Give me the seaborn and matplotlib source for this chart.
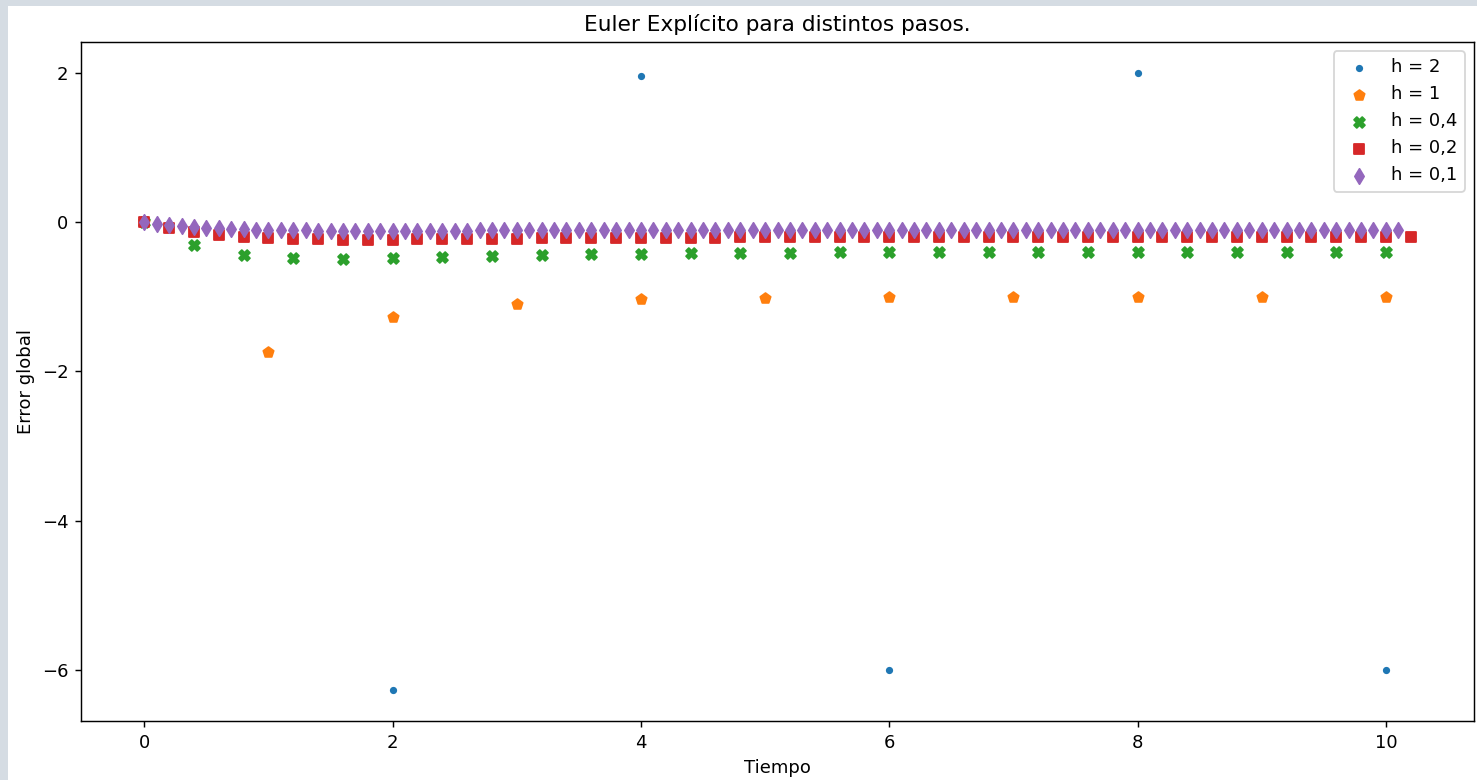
import numpy as np
import pandas as pd
import matplotlib
matplotlib.use('Agg')
import matplotlib.pyplot as plt
from matplotlib.patches import Rectangle
import seaborn as sns

# paso de cada serie y su etiqueta
steps = [2, 1, 0.4, 0.2, 0.1]
labels = ['h = 2', 'h = 1', 'h = 0,4', 'h = 0,2', 'h = 0,1']
markers = ['.', 'p', 'X', 's', 'd']
colors = ['#1f77b4', '#ff7f0e', '#2ca02c', '#d62728', '#9467bd']

# error global
err_h2 = [0.0, -6.271, 1.963, -6.005, 1.999, -6.000]
err_h1 = [0.0, -1.736, -1.271, -1.100, -1.037, -1.013, -1.005, -1.002, -1.001, -1.000, -1.000]
err_h04 = [0.0, -0.301, -0.435, -0.484, -0.493, -0.484, -0.469, -0.454, -0.441, -0.430,
           -0.422, -0.416, -0.411, -0.408, -0.406, -0.404, -0.403, -0.402, -0.401, -0.401,
           -0.400, -0.400, -0.400, -0.400, -0.400, -0.400]
err_h02 = [0.0, -0.078, -0.133, -0.171, -0.198, -0.215, -0.226, -0.232, -0.235, -0.235,
           -0.235, -0.233, -0.230, -0.228, -0.225, -0.222, -0.220, -0.217, -0.215, -0.213,
           -0.211, -0.210, -0.208, -0.207, -0.206, -0.205, -0.204, -0.204, -0.203, -0.203,
           -0.202, -0.202, -0.202, -0.201, -0.201, -0.201, -0.201, -0.201, -0.200, -0.200,
           -0.200, -0.200, -0.200, -0.200, -0.200, -0.200, -0.200, -0.200, -0.200, -0.200,
           -0.200, -0.200]
err_h01 = [0.0, -0.020, -0.036, -0.051, -0.063, -0.073, -0.082, -0.089, -0.095, -0.100,
           -0.104, -0.107, -0.109, -0.111, -0.113, -0.114, -0.115, -0.115, -0.115, -0.115,
           -0.115, -0.115, -0.115, -0.114, -0.114, -0.113, -0.113, -0.112, -0.112, -0.111,
           -0.111, -0.110, -0.109, -0.109, -0.108, -0.108, -0.107, -0.107, -0.106, -0.106,
           -0.106, -0.105, -0.105, -0.105, -0.104, -0.104, -0.104, -0.103, -0.103, -0.103,
           -0.103, -0.102, -0.102, -0.102, -0.102, -0.102, -0.102, -0.102, -0.101, -0.101,
           -0.101, -0.101, -0.101, -0.101, -0.101, -0.101, -0.101, -0.101, -0.101, -0.101,
           -0.100, -0.100, -0.100, -0.100, -0.100, -0.100, -0.100, -0.100, -0.100, -0.100,
           -0.100, -0.100, -0.100, -0.100, -0.100, -0.100, -0.100, -0.100, -0.100, -0.100,
           -0.100, -0.100, -0.100, -0.100, -0.100, -0.100, -0.100, -0.100, -0.100, -0.100,
           -0.100, -0.100]
errors = [err_h2, err_h1, err_h04, err_h02, err_h01]

dpi = 130
fig = plt.figure(figsize=(1477 / dpi, 780 / dpi), dpi=dpi)
fig.patch.set_facecolor('#d5dce3')
fig.patches.append(Rectangle((8 / 1477, 0), 1, 1 - 6 / 780, transform=fig.transFigure,
                             facecolor='white', edgecolor='none', zorder=-1))
ax = fig.add_axes([81 / 1477, 1 - 721 / 780, (1474 - 81) / 1477, (721 - 42) / 780])

for h, lab, mk, col, err in zip(steps, labels, markers, colors, errors):
    df = pd.DataFrame({'t': np.round(np.arange(len(err)) * h, 2), 'e': err})
    sns.scatterplot(data=df, x='t', y='e', ax=ax, marker=mk, color=col, s=36,
                    edgecolor=col, linewidth=1, label=lab)

ax.set_title('Euler Explícito para distintos pasos.')
ax.set_xlabel('Tiempo')
ax.set_ylabel('Error global')
ax.legend(loc='upper right')

fig.savefig('out.png', dpi=dpi, facecolor=fig.get_facecolor())
